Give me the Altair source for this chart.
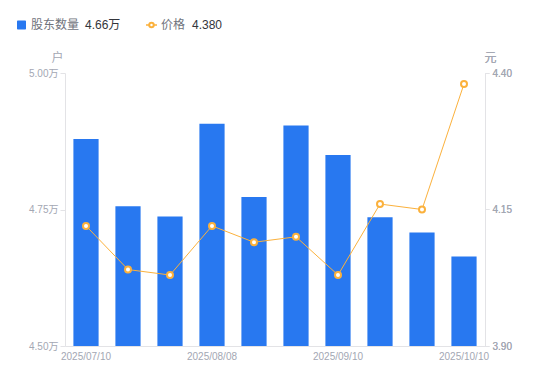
import altair as alt
import pandas as pd

dates = ["2025/07/10", "2025/07/20", "2025/07/31", "2025/08/08", "2025/08/20",
         "2025/08/31", "2025/09/10", "2025/09/19", "2025/09/30", "2025/10/10"]
holders = [4.879, 4.756, 4.737, 4.907, 4.773, 4.904, 4.850, 4.736, 4.708, 4.664]  # 万户
prices = [4.12, 4.04, 4.03, 4.12, 4.09, 4.10, 4.03, 4.16, 4.15, 4.38]   # 元
shown_dates = ["2025/07/10", "2025/08/08", "2025/09/10", "2025/10/10"]
left_ticks = [4.50, 4.75, 5.00]
right_ticks = [3.90, 4.15, 4.40]
left_domain = [4.50, 5.00]
right_domain = [3.90, 4.40]
legend_names = ["股东数量", "价格"]

df = pd.DataFrame({"date": dates, "holders": holders, "price": prices})
one = pd.DataFrame({"k": [0]})

FONT = "Liberation Sans, Noto Sans CJK SC"
BLUE = "#2878F0"
ORANGE = "#FBB13C"
AXIS_GRAY = "#E3E3E6"
LABEL_GRAY = "#A3A7B3"

shown_js = "[" + ",".join("'" + d + "'" for d in shown_dates) + "]"
x_enc = alt.X(
    "date:N", sort=None, title=None,
    scale=alt.Scale(paddingInner=0.4, paddingOuter=0.2),
    axis=alt.Axis(labelExpr=f"indexof({shown_js}, datum.value) >= 0 ? datum.value : ''",
                  labelAngle=0, ticks=False, domainColor=AXIS_GRAY, labelColor=LABEL_GRAY,
                  labelFontSize=10, labelPadding=5, labelOverlap=False, grid=False,
                  labelFont=FONT),
)

bars = alt.Chart(df).mark_bar(color=BLUE, clip=True).encode(
    x=x_enc,
    y=alt.Y("holders:Q", scale=alt.Scale(domain=left_domain, zero=False, nice=False),
            axis=alt.Axis(values=left_ticks, orient="left",
                          labelExpr="format(datum.value, '.2f') + '万'",
                          title="户", titleAngle=0, titleX=-8, titleY=-16,
                          titleAlign="center", titleBaseline="middle",
                          titleFontSize=12, titleFontWeight="normal", titleColor=LABEL_GRAY,
                          titleFont=FONT, labelFont=FONT,
                          labelFontSize=10, labelColor=LABEL_GRAY, tickColor=AXIS_GRAY,
                          domainColor=AXIS_GRAY, tickSize=5, labelPadding=2, grid=False)),
)

y_right = alt.Y("price:Q", scale=alt.Scale(domain=right_domain, zero=False, nice=False),
                axis=alt.Axis(values=right_ticks, orient="right", format=".2f",
                              title="元", titleAngle=0, titleX=5, titleY=-16,
                              titleAlign="center", titleBaseline="middle",
                              titleFontSize=12, titleFontWeight="normal", titleColor=LABEL_GRAY,
                              titleFont=FONT, labelFont=FONT,
                              labelFontSize=10, labelColor=LABEL_GRAY, tickColor=AXIS_GRAY,
                              domainColor=AXIS_GRAY, tickSize=4, labelPadding=3, grid=False))

line = alt.Chart(df).mark_line(color=ORANGE, strokeWidth=1).encode(x=x_enc, y=y_right)
pts = alt.Chart(df).mark_point(filled=True, fill="white", stroke=ORANGE, strokeWidth=2,
                               size=36, opacity=1).encode(x=x_enc, y=y_right)

# legend (drawn in top padding)
LY = -48
leg_sq = alt.Chart(one).mark_rect(color=BLUE, cornerRadius=1).encode(
    x=alt.value(-48), x2=alt.value(-39), y=alt.value(LY - 4.5), y2=alt.value(LY + 4.5))
leg_t1 = alt.Chart(one).mark_text(align="left", baseline="middle", fontSize=12,
                                  color="#70737C", font=FONT).encode(
    x=alt.value(-34), y=alt.value(LY), text=alt.value(legend_names[0]))
leg_v1 = alt.Chart(one).mark_text(align="left", baseline="middle", fontSize=12,
                                  color="#33353B", font=FONT).encode(
    x=alt.value(20), y=alt.value(LY), text=alt.value(f"{holders[-1]:.2f}万"))
leg_line = alt.Chart(one).mark_rule(color=ORANGE, strokeWidth=1.5).encode(
    x=alt.value(81), x2=alt.value(92), y=alt.value(LY))
leg_pt = alt.Chart(one).mark_point(filled=True, fill="white", stroke=ORANGE, strokeWidth=2,
                                   size=20, opacity=1).encode(x=alt.value(86.5), y=alt.value(LY))
leg_t2 = alt.Chart(one).mark_text(align="left", baseline="middle", fontSize=12,
                                  color="#70737C", font=FONT).encode(
    x=alt.value(96), y=alt.value(LY), text=alt.value(legend_names[1]))
leg_v2 = alt.Chart(one).mark_text(align="left", baseline="middle", fontSize=12,
                                  color="#33353B", font=FONT).encode(
    x=alt.value(127), y=alt.value(LY), text=alt.value(f"{prices[-1]:.3f}"))

chart = alt.layer(
    bars, line, pts, leg_sq, leg_t1, leg_v1, leg_line, leg_pt, leg_t2, leg_v2
).resolve_scale(y="independent").properties(
    width=420, height=273,
    autosize=alt.AutoSizeParams(type="none"),
    padding={"left": 57, "top": 65, "right": 57, "bottom": 20},
).configure_view(stroke=None)

chart.save("out.html", embed_options={"renderer": "svg", "actions": False})
